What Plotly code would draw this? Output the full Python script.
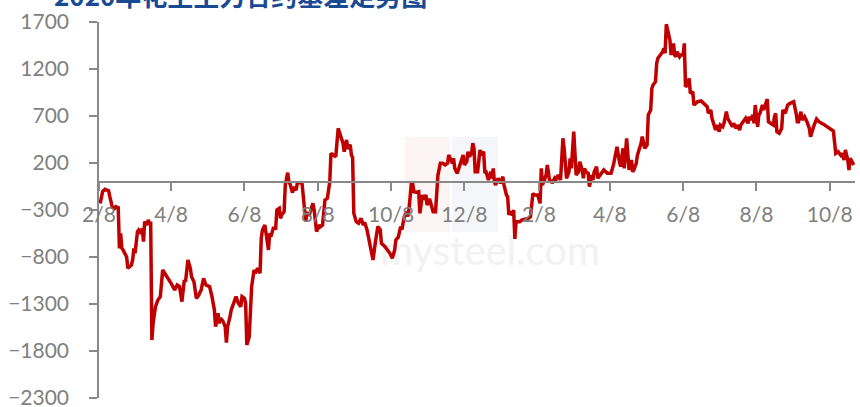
import pandas as pd
import plotly.graph_objects as go

start_date = "2020-02-08"

day_offset = [
    1, 3, 5, 8, 9, 11, 13, 14, 16, 17, 18, 19, 20, 22, 23, 24, 27, 28, 29, 30,
    31, 32, 33, 35, 36, 37, 38, 40, 41, 42, 43, 44, 45, 47, 49, 51, 53, 55, 58, 60,
    63, 65, 67, 69, 71, 72, 74, 76, 77, 79, 81, 83, 85, 87, 89, 92, 94, 96, 97, 99,
    100, 101, 103, 105, 106, 107, 109, 110, 112, 114, 116, 118, 119, 121, 122, 123, 125, 126, 127, 129,
    130, 132, 134, 135, 136, 138, 141, 142, 143, 145, 147, 148, 150, 151, 152, 154, 155, 157, 158, 159,
    161, 162, 164, 165, 168, 169, 171, 172, 173, 175, 178, 179, 181, 183, 184, 186, 188, 190, 192, 193,
    195, 197, 199, 201, 203, 204, 206, 207, 209, 210, 211, 212, 214, 216, 218, 220, 221, 223, 225, 227,
    228, 230, 232, 234, 235, 238, 242, 244, 246, 247, 249, 251, 252, 254, 256, 257, 258, 260, 261, 262,
    264, 266, 267, 269, 270, 272, 273, 275, 276, 278, 280, 281, 282, 284, 286, 288, 290, 291, 292, 294,
    295, 296, 298, 299, 301, 303, 304, 306, 307, 308, 310, 311, 312, 313, 315, 316, 317, 318, 320, 321,
    322, 324, 326, 327, 328, 329, 330, 332, 334, 336, 337, 339, 340, 341, 342, 344, 345, 346, 347, 350,
    352, 357, 359, 361, 362, 365, 367, 368, 369, 370, 372, 373, 375, 376, 377, 379, 380, 382, 384, 386,
    387, 389, 391, 392, 393, 395, 396, 397, 399, 400, 402, 403, 404, 405, 407, 408, 410, 411, 412, 414,
    415, 417, 419, 420, 423, 426, 428, 430, 431, 433, 434, 436, 437, 439, 440, 441, 443, 444, 445, 447,
    448, 450, 451, 452, 454, 456, 457, 459, 460, 461, 463, 464, 465, 467, 469, 470, 471, 472, 474, 475,
    476, 478, 479, 480, 481, 483, 484, 486, 487, 488, 490, 491, 492, 494, 495, 498, 501, 503, 506, 507,
    509, 510, 512, 513, 514, 516, 517, 519, 520, 522, 523, 525, 527, 528, 530, 531, 533, 534, 536, 538,
    540, 541, 542, 544, 545, 546, 548, 549, 550, 552, 553, 555, 556, 557, 559, 561, 562, 563, 564, 566,
    568, 569, 571, 573, 575, 578, 580, 581, 582, 584, 585, 587, 589, 591, 592, 594, 595, 597, 599, 603,
    607, 611, 613, 615, 617, 618, 620, 621, 623, 624, 625, 627, 628,
]

basis = [
    -230, -105, -80, -95, -158, -265, -283, -265, -275, -708, -548, -705, -725, -779, -800, -920, -885, -832, -708, -760,
    -637, -530, -513, -550, -495, -637, -424, -460, -406, -440, -424, -1683, -1505, -1328, -1257, -1222, -938, -975, -1027, -1080,
    -1150, -1098, -1115, -1275, -1045, -1063, -832, -920, -1010, -1063, -1240, -1205, -1150, -1027, -1098, -1115, -1222, -1364, -1541, -1399,
    -1505, -1452, -1480, -1541, -1711, -1541, -1435, -1364, -1293, -1222, -1293, -1328, -1222, -1240, -1293, -1736, -1648, -1435, -1115, -938,
    -973, -920, -973, -601, -513, -460, -725, -548, -585, -495, -495, -300, -282, -389, -353, -318, -34, 97, 0, -25,
    -116, -55, -90, -16, -9, -25, -265, -424, -335, -350, -229, -300, -530, -460, -480, -460, -194, -176, 0, 303,
    285, 267, 569, 498, 410, 320, 445, 350, 395, 285, 260, -335, -424, -440, -389, -460, -430, -513, -637, -761,
    -832, -637, -477, -510, -655, -690, -761, -814, -725, -619, -590, -477, -510, -371, -318, -370, -283, 0, -20, -105,
    -110, -105, -335, -140, -190, -140, -247, -180, -230, -318, -318, -105, 72, 197, 197, 180, 197, 285, 250, 197,
    250, 143, 90, 125, 214, 285, 180, 215, 320, 267, 300, 410, 355, 107, 107, 267, 338, 285, 320, 107,
    107, 19, 107, 37, 143, -3, -34, 37, -15, 54, -35, -140, -160, -353, -318, -353, -300, -608, -424, -424,
    -406, -389, -371, -123, -140, -140, -229, 143, -34, 0, 72, 179, 0, 20, -15, 37, 19, 72, 19, 463,
    356, 37, 107, 250, 143, 533, 285, 72, 107, 214, 126, 37, 143, 107, 90, -52, 72, 19, 107, 161,
    37, 72, 107, 126, 90, 90, 179, 320, 373, 214, 161, 356, 143, 463, 285, 126, 232, 107, 126, 197,
    285, 356, 410, 480, 356, 391, 711, 764, 995, 1030, 1065, 1261, 1314, 1349, 1384, 1420, 1367, 1676, 1580, 1509,
    1349, 1473, 1349, 1331, 1384, 1331, 1349, 1349, 1473, 1012, 1030, 1101, 941, 959, 817, 852, 860, 834, 799, 729,
    764, 676, 586, 551, 604, 533, 604, 586, 622, 746, 676, 622, 586, 622, 569, 604, 551, 604, 639, 676,
    622, 693, 658, 711, 622, 817, 586, 711, 729, 817, 764, 835, 881, 639, 622, 604, 693, 729, 533, 516,
    569, 764, 729, 817, 835, 852, 729, 639, 639, 746, 658, 693, 639, 569, 480, 569, 604, 668, 639, 611,
    575, 540, 303, 320, 285, 303, 232, 338, 232, 126, 250, 197, 179,
]

tick_dates = [
    "2020-02-08", "2020-04-08", "2020-06-08", "2020-08-08", "2020-10-08", "2020-12-08",
    "2021-02-08", "2021-04-08", "2021-06-08", "2021-08-08", "2021-10-08",
]
tick_labels = ["2/8", "4/8", "6/8", "8/8", "10/8", "12/8", "2/8", "4/8", "6/8", "8/8", "10/8"]
y_ticks = [-2300, -1800, -1300, -800, -300, 200, 700, 1200, 1700]

title_text = "2020年花生主力合约基差走势图"
watermark_text = "mysteel.com"

start = pd.Timestamp(start_date)
dates = [start + pd.Timedelta(days=d) for d in day_offset]
span_days = 629
x_end = start + pd.Timedelta(days=span_days)

y_min, y_max = -2300, 1700
zero_pos = (0 - y_min) / (y_max - y_min)

axis_grey = "#898989"
label_grey = "#7f7f7f"

# plot area in pixels: x 99..855, y 22..398
def px_to_paper_x(px):
    return (px - 99) / 756

def px_to_paper_y(py):
    return (398 - py) / 376

# watermark text placed beneath the line (position derived from the axis ranges)
wm_fx, wm_fy = px_to_paper_x(490), px_to_paper_y(255)
wm_x = start + pd.Timedelta(days=span_days * wm_fx)
wm_y = y_min + (y_max - y_min) * wm_fy

fig = go.Figure()
fig.add_trace(go.Scatter(
    x=[wm_x], y=[wm_y], mode="text", text=[watermark_text],
    textfont=dict(family="Lato", size=40, color="#f2f2f2"),
    hoverinfo="skip", showlegend=False,
))
fig.add_trace(go.Scatter(
    x=dates, y=basis, mode="lines",
    line=dict(color="#C00000", width=3.5),
    hoverinfo="skip", showlegend=False,
))

fig.update_layout(
    width=860, height=407,
    margin=dict(l=99, r=5, t=22, b=9, autoexpand=False),
    paper_bgcolor="white", plot_bgcolor="white",
    font=dict(family="Lato", color=label_grey, size=21),
    xaxis=dict(
        type="date", range=[start, x_end],
        anchor="free", position=zero_pos, automargin=False,
        tickmode="array", tickvals=tick_dates, ticktext=tick_labels,
        showline=True, linecolor=axis_grey, linewidth=1.5,
        ticks="outside", ticklen=8, tickwidth=1.5, tickcolor=axis_grey,
        ticklabelstandoff=6, ticklabeloverflow="allow",
        showgrid=False, zeroline=False,
        tickfont=dict(family="Lato", size=21, color=label_grey),
    ),
    yaxis=dict(
        range=[y_min, y_max], automargin=False,
        tickmode="array", tickvals=y_ticks,
        showline=True, linecolor=axis_grey, linewidth=1.5,
        ticks="outside", ticklen=8, tickwidth=1.5, tickcolor=axis_grey,
        ticklabelstandoff=16, ticklabeloverflow="allow",
        showgrid=False, zeroline=False,
        tickfont=dict(family="Lato", size=21, color=label_grey),
    ),
    shapes=[
        dict(type="rect", xref="paper", yref="paper", layer="below",
             x0=px_to_paper_x(405), x1=px_to_paper_x(450),
             y0=px_to_paper_y(232), y1=px_to_paper_y(137),
             fillcolor="#fdf4f4", line=dict(width=0)),
        dict(type="rect", xref="paper", yref="paper", layer="below",
             x0=px_to_paper_x(452), x1=px_to_paper_x(498),
             y0=px_to_paper_y(232), y1=px_to_paper_y(137),
             fillcolor="#f5f6fa", line=dict(width=0)),
    ],
    annotations=[
        dict(text=title_text, xref="paper", yref="paper",
             x=px_to_paper_x(52), y=px_to_paper_y(-5),
             xanchor="left", yanchor="middle", showarrow=False,
             font=dict(family="Noto Sans CJK SC", size=26, color="#1A4A94", weight="bold")),
    ],
)

fig.write_html(
    "out.html",
    config={"displayModeBar": False},
    post_script="document.body.style.margin='0';",
)
